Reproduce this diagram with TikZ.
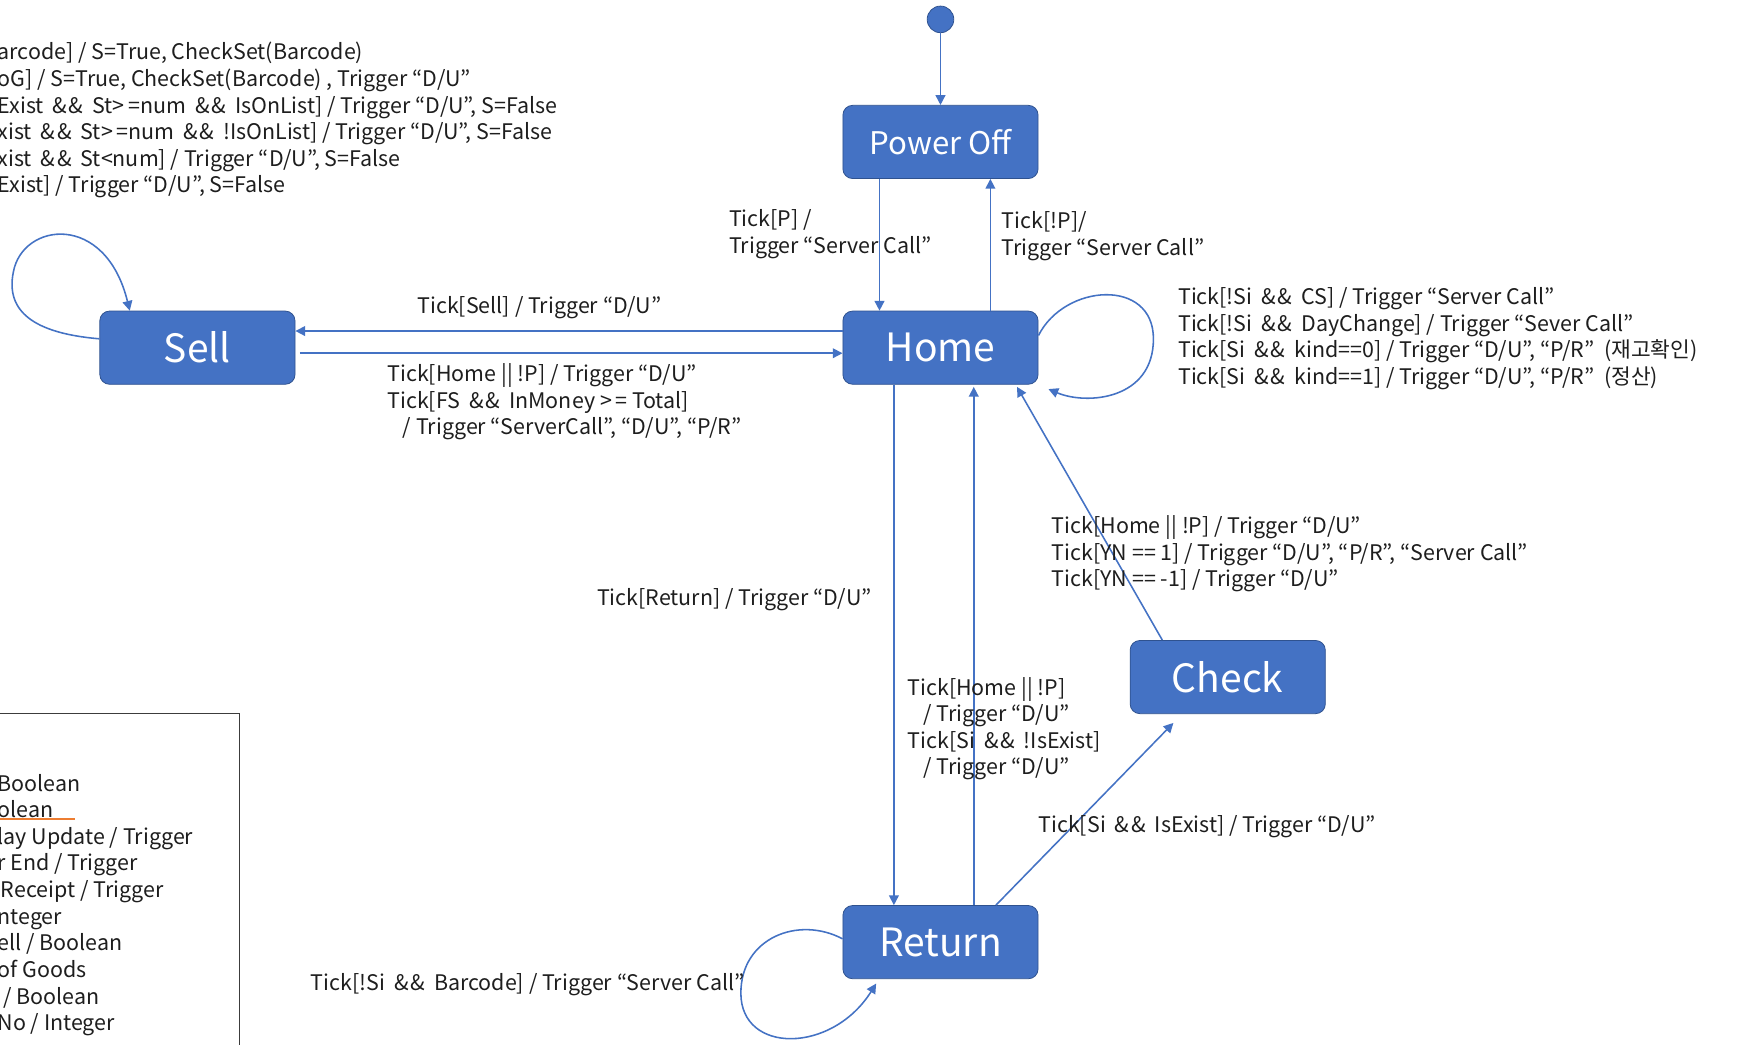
\documentclass[tikz,border=0pt]{standalone}
\usepackage{fontspec}
\setmainfont{Noto Sans CJK KR}
\usepackage{tikz}
\usetikzlibrary{arrows.meta,positioning}
\tikzset{every node/.append style={align=left}}
\definecolor{statecolor}{RGB}{68,114,196}
\definecolor{stateborder}{RGB}{47,82,143}
\definecolor{labelcolor}{RGB}{30,30,30}
\definecolor{legendborder}{RGB}{60,60,60}
\definecolor{markcolor}{RGB}{237,125,49}
\newcommand{\andop}{\kern2.2pt\&\kern0.8pt\&\kern2.2pt}
\newcommand{\geop}{>\kern1.8pt=}

\begin{document}
\begin{tikzpicture}[
    state/.style={draw=stateborder, fill=statecolor, rounded corners=5pt, minimum width=3.52cm, minimum height=1.32cm, text=white, align=center, font=\fontsize{20}{24}\selectfont},
    trans/.style={draw=statecolor, line width=0.8pt, -{Triangle[length=5pt, width=5pt]}},
    lbl/.style={text=labelcolor, font=\fontsize{11}{13.66}\selectfont, inner sep=0pt, anchor=west}
]
    \useasboundingbox (0,0) rectangle (31.36,18.83);
    \clip (0,0) rectangle (31.36,18.83);
    \fill[white] (0,0) rectangle (31.36,18.83);

    % Initial pseudo state
    \node[circle, fill=statecolor, draw=stateborder, minimum size=0.48cm, inner sep=0pt] (init) at (16.96, 18.48) {};

    % States
    \node[state, font=\fontsize{16}{19}\selectfont] (poweroff) at (16.96, 16.27) {Power Off};
    \node[state] (home) at (16.96, 12.56) {Home};
    \node[state] (sell) at (3.56, 12.56) {Sell};
    \node[state] (check) at (22.14, 6.62) {Check};
    \node[state] (return) at (16.96, 1.84) {Return};

    % Transitions between states
    \draw[trans] (init) -- (poweroff);
    \draw[trans] ([xshift=-1.1cm]poweroff.south) -- ([xshift=-1.1cm]home.north);
    \draw[trans] ([xshift=0.9cm]home.north) -- ([xshift=0.9cm]poweroff.south);
    \draw[trans] ([yshift=0.3cm]home.west) -- ([yshift=0.3cm]sell.east);
    \draw[trans] ([xshift=0.08cm, yshift=-0.1cm]sell.east) -- ([yshift=-0.1cm]home.west);
    \draw[trans] ([xshift=-0.84cm]home.south) -- ([xshift=-0.84cm]return.north);
    \draw[trans] ([xshift=0.6cm]return.north) -- ([xshift=0.6cm, yshift=-0.04cm]home.south);
    \draw[trans] ([xshift=-1.18cm]check.north) -- ([xshift=1.38cm, yshift=-0.04cm]home.south);
    \draw[trans] ([xshift=1.0cm]return.north) -- ([xshift=-0.98cm, yshift=-0.16cm]check.south);

    % Self transitions
    \draw[trans] ([yshift=0.16cm]sell.west) .. controls (0.6, 12.82) and (0.1, 13.22) .. (0.24, 13.92) .. controls (0.4, 14.82) and (1.9, 15.02) .. ([xshift=-1.22cm]sell.north);
    \draw[trans] ([yshift=0.22cm]home.east) .. controls (19.2, 13.72) and (20.8, 13.82) .. (20.8, 12.72) .. controls (20.8, 11.62) and (19.6, 11.52) .. ([xshift=0.18cm, yshift=-0.08cm]home.south east);
    \draw[trans] ([yshift=0.06cm]return.west) .. controls (14.4, 2.32) and (13.36, 1.92) .. (13.36, 0.92) .. controls (13.36, -0.18) and (15.0, -0.18) .. ([xshift=-1.16cm, yshift=-0.08cm]return.south);

    % Transition labels
    \node[lbl] (selltext) at (-0.05, 16.66) {arcode] / S=True, CheckSet(Barcode)\\
        oG] / S=True, CheckSet(Barcode) , Trigger “D/U”\\
        Exist \andop{} St\geop num \andop{} IsOnList] / Trigger “D/U”, S=False\\
        xist \andop{} St\geop num \andop{} !IsOnList] / Trigger “D/U”, S=False\\
        xist \andop{} St<num] / Trigger “D/U”, S=False\\
        Exist] / Trigger “D/U”, S=False};
    \node[lbl] (ontext) at (13.14, 14.61) {Tick[P] /\\Trigger “Server Call”};
    \node[lbl] (offtext) at (18.06, 14.57) {Tick[!P]/\\Trigger “Server Call”};
    \node[lbl] (tosell) at (7.52, 13.28) {Tick[Sell] / Trigger “D/U”};
    \node[lbl] (fromsell) at (6.98, 11.58) {Tick[Home || !P] / Trigger “D/U”\\
        Tick[FS \andop{} InMoney \geop{} Total]\\
        \hspace{0.28cm}/ Trigger “ServerCall”, “D/U”, “P/R”};
    \node[lbl] (hometext) at (21.24, 12.72) {Tick[!Si \andop{} CS] / Trigger “Server Call”\\
        Tick[!Si \andop{} DayChange] / Trigger “Sever Call”\\
        Tick[Si \andop{} kind==0] / Trigger “D/U”, “P/R”\ \ (재고확인)\\
        Tick[Si \andop{} kind==1] / Trigger “D/U”, “P/R”\ \ (정산)};
    \node[lbl] (toreturn) at (10.76, 8.02) {Tick[Return] / Trigger “D/U”};
    \node[lbl] (fromcheck) at (18.96, 8.84) {Tick[Home || !P] / Trigger “D/U”\\
        Tick[YN == 1] / Trigger “D/U”, “P/R”, “Server Call”\\
        Tick[YN == -1] / Trigger “D/U”};
    \node[lbl] (fromreturn) at (16.36, 5.69) {Tick[Home || !P]\\
        \hspace{0.28cm}/ Trigger “D/U”\\
        Tick[Si \andop{} !IsExist]\\
        \hspace{0.28cm}/ Trigger “D/U”};
    \node[lbl] (tocheck) at (18.72, 3.92) {Tick[Si \andop{} IsExist] / Trigger “D/U”};
    \node[lbl] (returntext) at (5.6, 1.08) {Tick[!Si \andop{} Barcode] / Trigger “Server Call”};

    % Legend
    \draw[legendborder, line width=0.8pt] (-0.2, -0.2) rectangle (4.32, 5.96);
    \node[lbl] (legend) at (-0.05, 2.51) {Boolean\\
        olean\\
        lay Update / Trigger\\
        r End / Trigger\\
        \hspace{0.06cm}Receipt / Trigger\\
        nteger\\
        ell / Boolean\\
        of Goods\\
        \hspace{0.1cm}/ Boolean\\
        No / Integer};
    \draw[markcolor, line width=0.6pt] (0, 4.06) -- (1.36, 4.06);
\end{tikzpicture}
\end{document}
